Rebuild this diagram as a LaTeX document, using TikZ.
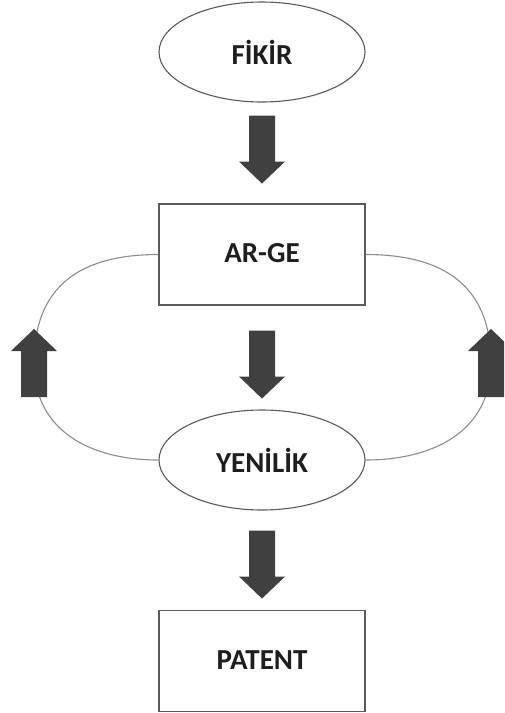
\documentclass[tikz,border=0pt]{standalone}
\usepackage{fontspec}
\setmainfont{Carlito}
\usetikzlibrary{shapes.geometric,calc}

\definecolor{outline}{HTML}{5A5A5A}
\definecolor{loopline}{HTML}{8C8C8C}
\definecolor{arrowfill}{HTML}{404040}
\definecolor{labeltext}{HTML}{1E1E1E}

\tikzset{
  label font/.style={font=\fontsize{29}{34}\selectfont\bfseries, text=labeltext},
  oval/.style={ellipse, draw=outline, line width=1.1pt, fill=white,
    minimum width=206, minimum height=100, inner sep=0pt, label font},
  box/.style={rectangle, draw=outline, line width=1.1pt, fill=white,
    minimum width=206, minimum height=101, inner sep=0pt, label font,
    text depth=0pt, text height=16pt},
  loop/.style={draw=loopline, line width=1.1pt},
  % thick block arrow, origin at the tail, pointing along +y
  blockarrow/.pic={
    \fill[arrowfill] (-13,0) -- (13,0) -- (13,46) -- (23,46) -- (0,68)
      -- (-23,46) -- (-13,46) -- cycle;
  }
}

\begin{document}
\begin{tikzpicture}[x=1pt,y=-1pt]
  \useasboundingbox (0,0) rectangle (504,713);
  \clip (0,0) rectangle (504,713);

  % main chain
  \node[oval] (fikir)  at (262,52)  {FİKİR};
  \node[box]  (arge)   at (262,254.5) {AR-GE};
  \node[oval] (yenilik) at (262,460) {YENİLİK};
  \node[box]  (patent) at (262,661) {PATENT};

  % feedback loop bends
  \coordinate (lbend) at (34,363);
  \coordinate (rbend) at (491,363);

  \path[loop] (arge.west) to[out=180,in=90,looseness=1.2] (lbend)
              to[out=-90,in=180,looseness=1.1] (yenilik.west);
  \path[loop] (arge.east) to[out=0,in=90,looseness=1.2] (rbend)
              to[out=-90,in=0,looseness=1.1] (yenilik.east);

  % downward arrows between stages
  \pic at ($(fikir.south)+(0,13)$) {blockarrow};
  \pic at ($(arge.south)+(0,25)$) {blockarrow};
  \pic at ($(yenilik.south)+(0,20)$) {blockarrow};

  % upward arrows on the loop
  \pic[rotate=180] at ($(lbend)+(0,34)$) {blockarrow};
  \pic[rotate=180] at ($(rbend)+(0,34)$) {blockarrow};
\end{tikzpicture}
\end{document}
